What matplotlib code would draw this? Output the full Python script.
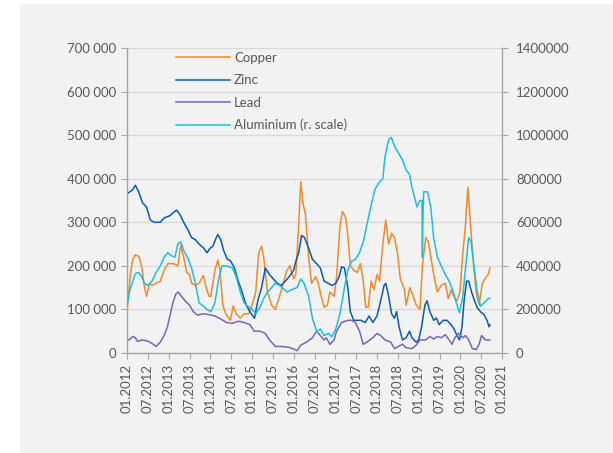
import matplotlib
matplotlib.use("Agg")
import matplotlib.pyplot as plt
from matplotlib.patches import Rectangle
from matplotlib.ticker import FuncFormatter, FixedLocator

plt.rcParams['font.family'] = ['Lato', 'DejaVu Sans']

# ---------------- data (time in decimal years, values in thousands) -------------
copper_t = [2012.00, 2012.08, 2012.14, 2012.20, 2012.28, 2012.35, 2012.42, 2012.47, 2012.54, 2012.60,
            2012.70, 2012.80, 2012.89, 2012.98, 2013.12, 2013.22, 2013.29, 2013.36, 2013.43, 2013.50,
            2013.55, 2013.64, 2013.73, 2013.83, 2013.90, 2013.97, 2014.01, 2014.11, 2014.18, 2014.23,
            2014.30, 2014.37, 2014.48, 2014.55, 2014.62, 2014.72, 2014.81, 2014.92, 2015.00, 2015.09,
            2015.16, 2015.23, 2015.28, 2015.37, 2015.47, 2015.56, 2015.66, 2015.75, 2015.84, 2015.91,
            2016.00, 2016.05, 2016.11, 2016.17, 2016.22, 2016.28, 2016.36, 2016.43, 2016.53, 2016.59,
            2016.66, 2016.73, 2016.81, 2016.87, 2016.97, 2017.03, 2017.11, 2017.17, 2017.25, 2017.30,
            2017.36, 2017.44, 2017.53, 2017.60, 2017.67, 2017.73, 2017.79, 2017.86, 2017.93, 2018.00,
            2018.06, 2018.14, 2018.21, 2018.28, 2018.35, 2018.42, 2018.49, 2018.56, 2018.66, 2018.70,
            2018.79, 2018.87, 2018.94, 2019.03, 2019.09, 2019.17, 2019.23, 2019.31, 2019.38, 2019.45,
            2019.54, 2019.64, 2019.71, 2019.78, 2019.87, 2019.92, 2019.99, 2020.06, 2020.12, 2020.18,
            2020.24, 2020.31, 2020.38, 2020.45, 2020.53, 2020.62, 2020.67, 2020.71]
copper_v = [95, 180, 215, 225, 222, 200, 150, 130, 160, 155,
            160, 165, 190, 205, 205, 200, 247, 220, 185, 180,
            160, 155, 160, 178, 150, 130, 130, 190, 213, 190,
            110, 90, 75, 108, 90, 80, 90, 90, 110, 140,
            230, 245, 220, 140, 110, 100, 130, 160, 190, 200,
            170, 180, 275, 393, 345, 320, 220, 160, 175, 160,
            130, 105, 110, 140, 130, 175, 290, 325, 310, 270,
            200, 190, 185, 205, 165, 105, 105, 165, 145, 180,
            165, 250, 305, 250, 275, 265, 230, 170, 145, 110,
            150, 130, 110, 100, 200, 265, 255, 210, 170, 140,
            155, 160, 125, 145, 125, 120, 140, 230, 290, 380,
            300, 210, 140, 110, 160, 175, 180, 195]

zinc_t = [2012.00, 2012.14, 2012.20, 2012.28, 2012.37, 2012.47, 2012.56, 2012.66, 2012.80, 2012.89,
          2013.03, 2013.12, 2013.19, 2013.27, 2013.36, 2013.45, 2013.55, 2013.64, 2013.73, 2013.83,
          2013.92, 2013.99, 2014.06, 2014.13, 2014.18, 2014.25, 2014.32, 2014.41, 2014.48, 2014.58,
          2014.67, 2014.76, 2014.86, 2014.95, 2015.02, 2015.06, 2015.14, 2015.23, 2015.32, 2015.42,
          2015.51, 2015.61, 2015.70, 2015.80, 2015.89, 2016.00, 2016.05, 2016.12, 2016.19, 2016.26,
          2016.36, 2016.45, 2016.55, 2016.64, 2016.73, 2016.83, 2016.92, 2017.01, 2017.09, 2017.15,
          2017.22, 2017.30, 2017.36, 2017.44, 2017.53, 2017.62, 2017.72, 2017.81, 2017.90, 2018.00,
          2018.09, 2018.17, 2018.21, 2018.28, 2018.35, 2018.42, 2018.47, 2018.53, 2018.61, 2018.70,
          2018.78, 2018.84, 2018.94, 2019.00, 2019.07, 2019.15, 2019.20, 2019.27, 2019.36, 2019.43,
          2019.49, 2019.59, 2019.68, 2019.78, 2019.85, 2019.92, 2019.98, 2020.04, 2020.09, 2020.15,
          2020.20, 2020.27, 2020.34, 2020.40, 2020.48, 2020.57, 2020.64, 2020.69, 2020.71]
zinc_v = [365, 375, 385, 370, 345, 335, 305, 300, 300, 310,
          315, 323, 328, 318, 300, 285, 265, 260, 250, 242,
          230, 240, 245, 262, 272, 260, 235, 215, 212, 195,
          165, 140, 110, 95, 85, 80, 120, 150, 195, 180,
          170, 160, 155, 165, 175, 190, 210, 230, 270, 265,
          240, 215, 205, 195, 165, 160, 155, 160, 175, 198,
          195, 150, 95, 75, 75, 75, 70, 85, 70, 85,
          120, 155, 160, 130, 90, 80, 95, 60, 30, 35,
          50, 35, 25, 30, 60, 110, 120, 95, 75, 80,
          65, 75, 75, 65, 55, 40, 30, 60, 120, 165,
          165, 140, 120, 105, 95, 88, 75, 60, 65]

lead_t = [2012.00, 2012.05, 2012.14, 2012.20, 2012.25, 2012.37, 2012.51, 2012.60, 2012.70, 2012.80,
          2012.89, 2012.97, 2013.03, 2013.10, 2013.17, 2013.23, 2013.31, 2013.41, 2013.50, 2013.59,
          2013.69, 2013.83, 2013.97, 2014.11, 2014.25, 2014.39, 2014.53, 2014.67, 2014.81, 2014.95,
          2015.05, 2015.19, 2015.32, 2015.42, 2015.56, 2015.70, 2015.89, 2016.03, 2016.08, 2016.17,
          2016.31, 2016.45, 2016.55, 2016.64, 2016.73, 2016.78, 2016.87, 2016.97, 2017.03, 2017.15,
          2017.30, 2017.39, 2017.48, 2017.58, 2017.67, 2017.76, 2017.90, 2018.00, 2018.09, 2018.19,
          2018.33, 2018.42, 2018.51, 2018.61, 2018.70, 2018.84, 2018.94, 2019.03, 2019.17, 2019.27,
          2019.36, 2019.45, 2019.54, 2019.64, 2019.73, 2019.80, 2019.87, 2019.96, 2020.06, 2020.12,
          2020.20, 2020.29, 2020.38, 2020.45, 2020.51, 2020.60, 2020.71]
lead_v = [30, 30, 38, 35, 27, 30, 27, 22, 15, 25,
          40, 60, 85, 115, 135, 140, 130, 118, 110, 95,
          87, 90, 88, 85, 78, 70, 68, 73, 70, 65,
          50, 50, 45, 30, 15, 15, 13, 8, 5, 18,
          25, 35, 50, 40, 30, 35, 20, 30, 50, 70,
          75, 75, 70, 50, 20, 25, 35, 45, 40, 30,
          25, 10, 15, 20, 12, 10, 18, 30, 30, 38,
          32, 38, 35, 42, 30, 20, 35, 45, 35, 40,
          30, 10, 8, 20, 40, 30, 30]

alu_t = [2012.00, 2012.07, 2012.14, 2012.20, 2012.28, 2012.35, 2012.42, 2012.51, 2012.60, 2012.70,
         2012.80, 2012.89, 2012.98, 2013.08, 2013.15, 2013.22, 2013.29, 2013.36, 2013.45, 2013.55,
         2013.64, 2013.73, 2013.83, 2013.92, 2014.01, 2014.11, 2014.20, 2014.28, 2014.39, 2014.53,
         2014.62, 2014.72, 2014.81, 2014.90, 2015.00, 2015.09, 2015.19, 2015.28, 2015.37, 2015.47,
         2015.56, 2015.66, 2015.75, 2015.84, 2016.00, 2016.08, 2016.17, 2016.25, 2016.36, 2016.45,
         2016.55, 2016.64, 2016.73, 2016.83, 2016.92, 2017.01, 2017.11, 2017.20, 2017.30, 2017.39,
         2017.48, 2017.58, 2017.67, 2017.76, 2017.86, 2017.95, 2018.04, 2018.14, 2018.19, 2018.28,
         2018.34, 2018.42, 2018.51, 2018.60, 2018.70, 2018.78, 2018.84, 2018.92, 2018.96, 2019.03,
         2019.08, 2019.09, 2019.10, 2019.12, 2019.21, 2019.29, 2019.36, 2019.45, 2019.54, 2019.64,
         2019.73, 2019.83, 2019.92, 2019.98, 2020.06, 2020.12, 2020.20, 2020.26, 2020.34, 2020.40,
         2020.48, 2020.57, 2020.67, 2020.71]
alu_v = [216, 290, 330, 365, 370, 350, 320, 310, 330, 370,
         400, 440, 460, 445, 440, 500, 510, 470, 440, 390,
         320, 230, 215, 200, 190, 230, 340, 400, 400, 390,
         350, 280, 230, 215, 200, 180, 210, 250, 280, 300,
         320, 310, 295, 280, 295, 300, 340, 320, 260, 160,
         100, 110, 80, 90, 75, 110, 180, 280, 380, 420,
         430, 460, 510, 590, 680, 750, 780, 800, 900, 980,
         990, 950, 920, 890, 840, 820, 760, 700, 670, 700,
         700, 440, 600, 740, 740, 670, 530, 440, 400, 360,
         330, 280, 220, 185, 260, 380, 530, 510, 380, 290,
         215, 230, 250, 250]

series_names = ["Copper", "Zinc", "Lead", "Aluminium (r. scale)"]
left_ticks = [0, 100000, 200000, 300000, 400000, 500000, 600000, 700000]
right_ticks = [0, 200000, 400000, 600000, 800000, 1000000, 1200000, 1400000]
x_ticks = [2012 + 0.5 * i for i in range(19)]
x_labels = [("01." if i % 2 == 0 else "07.") + str(2012 + i // 2) for i in range(19)]

# ---------------- style ----------------
C_COPPER = "#F08A2C"
C_ZINC = "#0B5AB4"
C_LEAD = "#7467BA"
C_ALU = "#1DBDE6"
BG = "#F2F2F2"
TXT = "#595959"
SPINE = "#A6A6A6"
GRID = "#D9D9D9"

W, H = 613, 453
fig = plt.figure(figsize=(W / 100, H / 100), dpi=100)
fig.patch.set_facecolor("white")
fig.patches.append(Rectangle((20 / W, 0), 1 - 20 / W, (H - 4) / H,
                             transform=fig.transFigure, facecolor=BG,
                             edgecolor="none", zorder=-10))

L, R, T, B = 127, 502, 48, 353
ax = fig.add_axes([L / W, 1 - B / H, (R - L) / W, (B - T) / H])
ax.set_facecolor("none")
ax2 = ax.twinx()
ax2.set_facecolor("none")

lw = 1.1
k = 1000
h1, = ax.plot(copper_t, [v * k for v in copper_v], color=C_COPPER, lw=lw)
h2, = ax.plot(zinc_t, [v * k for v in zinc_v], color=C_ZINC, lw=lw)
h3, = ax.plot(lead_t, [v * k for v in lead_v], color=C_LEAD, lw=lw)
h4, = ax2.plot(alu_t, [v * k for v in alu_v], color=C_ALU, lw=lw)

ax.set_xlim(2012, 2021)
ax.set_ylim(0, 700000)
ax2.set_ylim(0, 1400000)

ax.yaxis.set_major_locator(FixedLocator(left_ticks))
ax.yaxis.set_major_formatter(FuncFormatter(lambda v, p: f"{int(v):,}".replace(",", " ")))
ax2.yaxis.set_major_locator(FixedLocator(right_ticks))
ax2.yaxis.set_major_formatter(FuncFormatter(lambda v, p: f"{int(v)}"))
ax.set_xticks(x_ticks)
ax.set_xticklabels(x_labels, rotation=90)

ax.grid(axis="y", color=GRID, lw=1.0)
ax.set_axisbelow(True)

for a in (ax, ax2):
    for s in a.spines.values():
        s.set_color(SPINE)
        s.set_linewidth(1.0)
    a.spines["top"].set_visible(False)
ax.spines["right"].set_visible(False)
ax2.spines["left"].set_visible(False)
ax2.spines["bottom"].set_visible(False)

ax.tick_params(axis="y", length=4, color=SPINE, labelcolor=TXT, labelsize=9.5, pad=4)
ax.tick_params(axis="x", length=4, color=SPINE, labelcolor=TXT, labelsize=9.5, pad=4)
ax2.tick_params(axis="y", length=4, color=SPINE, labelcolor=TXT, labelsize=9.5, pad=6)

leg = ax.legend([h1, h2, h3, h4], series_names, loc="upper left",
                bbox_to_anchor=(176 / W, 1 - 52 / H), bbox_transform=fig.transFigure,
                frameon=False, fontsize=9.5, handlelength=4.1, handletextpad=0.3,
                labelspacing=0.78, borderpad=0, borderaxespad=0)
for t in leg.get_texts():
    t.set_color(TXT)

fig.savefig("out.png", dpi=100, facecolor=fig.get_facecolor())
